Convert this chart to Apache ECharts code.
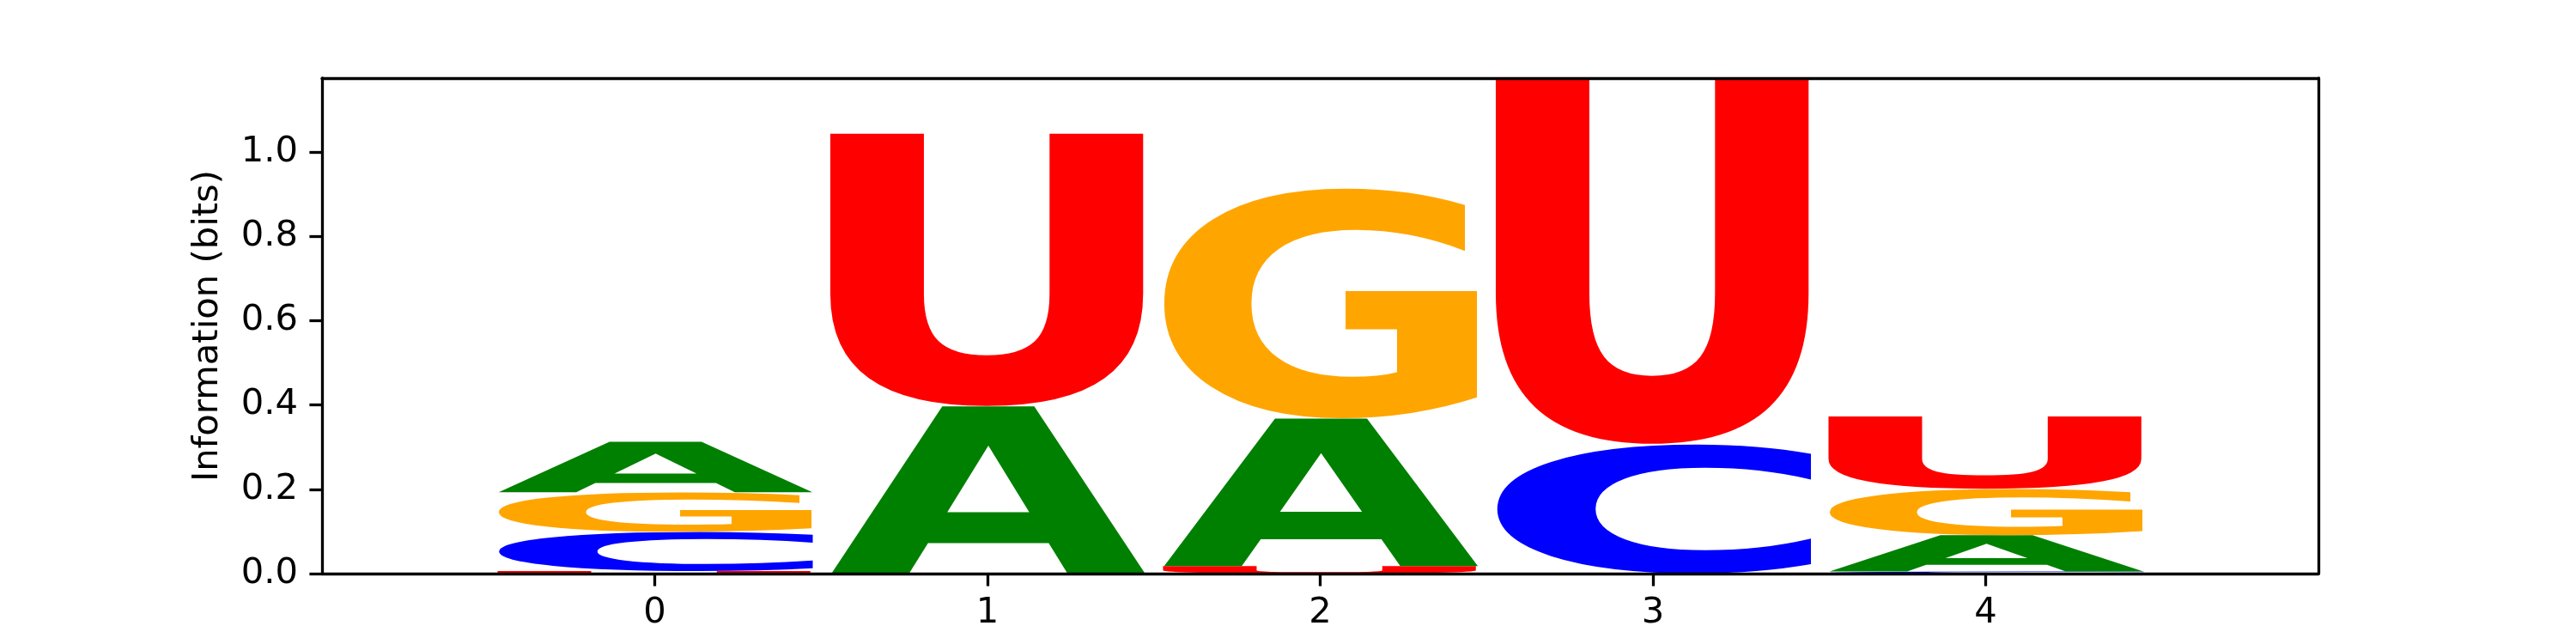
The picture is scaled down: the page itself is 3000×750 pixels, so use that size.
<!doctype html>
<html lang="en">
  <head>
    <meta charset="UTF-8" />
    <title>Sequence logo</title>
    <script src="https://cdn.jsdelivr.net/npm/echarts@6/dist/echarts.min.js"></script>
    <style>
      body {
        margin: 0;
        padding: 0;
        background: #fff;
      }
      .main {
        width: 3000px;
        height: 750px;
      }
    </style>
  </head>
  <body>
    <div class="main"></div>
    <script>
      // 数据：每个位置每个字母的信息量 (bits)
      const positions = [0, 1, 2, 3, 4];
      const letters = ["A", "C", "G", "U"];
      const heightsA = [0.12, 0.397, 0.35, 0.0, 0.086];
      const heightsC = [0.093, 0.0, 0.0, 0.307, 0.005];
      const heightsG = [0.094, 0.0, 0.547, 0.0, 0.11];
      const heightsU = [0.006, 0.647, 0.018, 0.868, 0.172];
      const yTicks = [0, 0.2, 0.4, 0.6, 0.8, 1.0];

      const colors = { A: "#008000", C: "#0000ff", G: "#ffa500", U: "#ff0000" };
      const heights = { A: heightsA, C: heightsC, G: heightsG, U: heightsU };
      const LETTER_WIDTH = 0.95;
      const FONT = "bold 200px 'DejaVu Sans'";
      const AXIS_FONT = "DejaVu Sans";

      // 每列从小到大堆叠
      let stackData = [];
      let yMax = 0;
      positions.forEach((p, i) => {
        let col = letters.map((l) => [l, heights[l][i]]).filter((d) => d[1] > 0);
        col.sort((a, b) => a[1] - b[1]);
        let floor = 0;
        col.forEach(([l, h]) => {
          stackData.push([p, floor, floor + h, letters.indexOf(l)]);
          floor += h;
        });
        yMax = Math.max(yMax, floor);
      });

      // 量出字形的实际墨迹范围, 用来把字母拉伸到格子里
      const ctx = document.createElement("canvas").getContext("2d");
      ctx.font = FONT;
      ctx.textAlign = "left";
      ctx.textBaseline = "middle";
      const glyphBox = {};
      letters.forEach((l) => {
        const m = ctx.measureText(l);
        glyphBox[l] = {
          left: m.actualBoundingBoxLeft,
          right: m.actualBoundingBoxRight,
          up: m.actualBoundingBoxAscent,
          down: m.actualBoundingBoxDescent,
        };
      });

      const myChart = echarts.init(document.querySelector(".main"), null, { renderer: "canvas" });

      const edgeAxis = {
        show: true,
        z: 10,
        axisLine: { show: true, lineStyle: { color: "#000", width: 3.3 } },
        axisTick: { show: false },
        axisLabel: { show: false },
        splitLine: { show: false },
      };

      const option = {
        animation: false,
        backgroundColor: "#fff",
        grid: { left: 375, right: 300, top: 91, bottom: 82, containLabel: false },
        xAxis: [
          {
            type: "value",
            min: -1,
            max: 5,
            interval: 1,
            position: "bottom",
            z: 10,
            axisLine: { show: true, onZero: false, lineStyle: { color: "#000", width: 3.3 } },
            axisTick: {
              show: true,
              length: 14.6,
              customValues: positions,
              lineStyle: { color: "#000", width: 3.3 },
            },
            axisLabel: {
              show: true,
              margin: 25,
              customValues: positions,
              color: "#000",
              fontFamily: AXIS_FONT,
              fontSize: 41.7,
            },
            splitLine: { show: false },
          },
          Object.assign({ type: "value", min: -1, max: 5, position: "top" }, edgeAxis, {
            axisLine: { show: true, onZero: false, lineStyle: { color: "#000", width: 3.3 } },
          }),
        ],
        yAxis: [
          {
            type: "value",
            min: 0,
            max: yMax,
            position: "left",
            z: 10,
            name: "Information (bits)",
            nameLocation: "middle",
            nameGap: 112,
            nameTextStyle: { color: "#000", fontFamily: AXIS_FONT, fontSize: 41.7 },
            axisLine: { show: true, onZero: false, lineStyle: { color: "#000", width: 3.3 } },
            axisTick: {
              show: true,
              length: 14.6,
              customValues: yTicks,
              lineStyle: { color: "#000", width: 3.3 },
            },
            axisLabel: {
              show: true,
              margin: 28,
              customValues: yTicks,
              formatter: (v) => v.toFixed(1),
              color: "#000",
              fontFamily: AXIS_FONT,
              fontSize: 41.7,
            },
            splitLine: { show: false },
          },
          Object.assign({ type: "value", min: 0, max: yMax, position: "right" }, edgeAxis, {
            axisLine: { show: true, onZero: false, lineStyle: { color: "#000", width: 3.3 } },
          }),
        ],
        series: [
          {
            type: "custom",
            xAxisIndex: 0,
            yAxisIndex: 0,
            clip: true,
            silent: true,
            encode: { x: 0, y: [1, 2] },
            data: stackData,
            renderItem: function (params, api) {
              const pos = api.value(0);
              const lo = api.value(1);
              const hi = api.value(2);
              const l = letters[api.value(3)];
              const tl = api.coord([pos - LETTER_WIDTH / 2, hi]);
              const br = api.coord([pos + LETTER_WIDTH / 2, lo]);
              const g = glyphBox[l];
              const sx = (br[0] - tl[0]) / (g.left + g.right);
              const sy = (br[1] - tl[1]) / (g.up + g.down);
              return {
                type: "text",
                x: tl[0] + sx * g.left,
                y: tl[1] + sy * g.up,
                scaleX: sx,
                scaleY: sy,
                silent: true,
                style: {
                  text: l,
                  x: 0,
                  y: 0,
                  font: FONT,
                  fill: colors[l],
                  align: "left",
                  verticalAlign: "middle",
                },
              };
            },
          },
        ],
      };

      myChart.setOption(option);
    </script>
  </body>
</html>
